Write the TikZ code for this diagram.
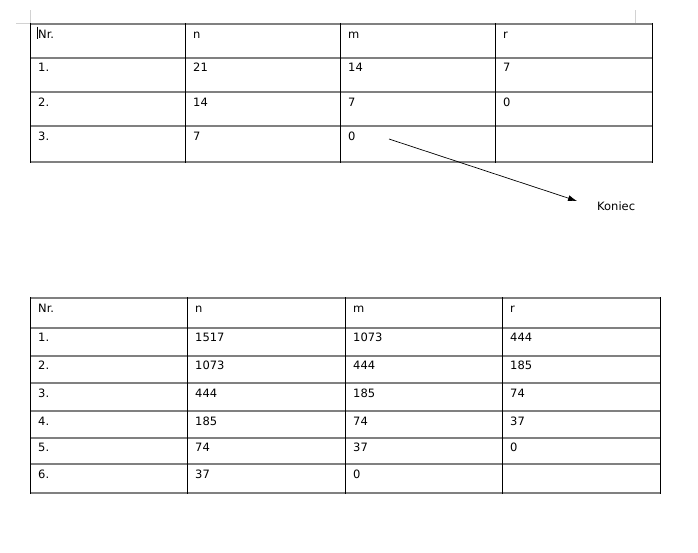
\documentclass[tikz,border=0pt]{standalone}
\usepackage{fontspec}
\setmainfont{DejaVu Sans}
\usetikzlibrary{arrows.meta}
\tikzset{
  rowrule/.style={draw=gray, line width=2pt},
  colrule/.style={draw=black, line width=0.9pt},
  cell/.style={anchor=base west, inner sep=0pt, font=\fontsize{11.5}{13}\selectfont},
  cornermark/.style={draw=gray!35, line width=1pt}
}

\begin{document}
\begin{tikzpicture}[x=1pt, y=-1pt]
  \useasboundingbox (0,0) rectangle (698,552);

  % page corner marks
  \draw[cornermark] (16,23.3) -- (30,23.3) -- (30,10);
  \draw[cornermark] (635,10) -- (635,23.3) -- (652,23.3);

  % first table
  \foreach \y in {24,57.7,92.3,126.3,162.3}
    \draw[rowrule] (30,\y) -- (652,\y);
  \foreach \x in {30,185,340,495,652}
    \draw[colrule] (\x,23) -- (\x,163.3);
  \foreach \r/\a/\b/\c/\d/\y in {0/Nr./n/m/r/24, 1/1./21/14/7/57.7,
                                 2/2./14/7/0/92.3, 3/3./7/0//126.3} {
    \node[cell] (a\r-1) at (38,\y+14) {\a};
    \node[cell] (a\r-2) at (193,\y+14) {\b};
    \node[cell] (a\r-3) at (348,\y+14) {\c};
    \node[cell] (a\r-4) at (503,\y+14) {\d};
  }
  \draw[black, line width=0.8pt] (37.3,26.7) -- (37.3,39.3);

  % arrow to the end
  \coordinate (from) at (389,139);
  \coordinate (tip) at (577,201);
  \node[cell, anchor=west] (koniec) at (597,206) {Koniec};
  \draw[-{Latex[length=9pt,width=6pt]}, line width=0.7pt] (from) -- (tip);

  % second table
  \foreach \y in {298.3,327.7,355.7,383.3,411,437.7,464.3,493.3}
    \draw[rowrule] (30,\y) -- (660,\y);
  \foreach \x in {30,187,345,502,660}
    \draw[colrule] (\x,297.3) -- (\x,494.3);
  \foreach \r/\a/\b/\c/\d/\y in {0/Nr./n/m/r/298.3, 1/1./1517/1073/444/327.7,
                                 2/2./1073/444/185/355.7, 3/3./444/185/74/383.3,
                                 4/4./185/74/37/411, 5/5./74/37/0/437.7,
                                 6/6./37/0//464.3} {
    \node[cell] (b\r-1) at (38,\y+14) {\a};
    \node[cell] (b\r-2) at (195,\y+14) {\b};
    \node[cell] (b\r-3) at (353,\y+14) {\c};
    \node[cell] (b\r-4) at (510,\y+14) {\d};
  }
\end{tikzpicture}
\end{document}
